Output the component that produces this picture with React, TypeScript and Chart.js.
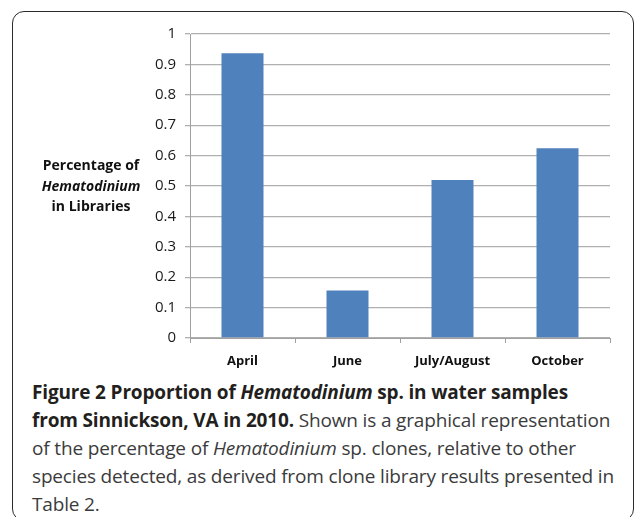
import React, { useEffect, useRef } from "react";
import { Chart, registerables } from "chart.js";

Chart.register(...registerables);

const categories = ["April", "June", "July/August", "October"];
const values = [0.937, 0.156, 0.52, 0.624];
const yMin = 0;
const yMax = 1;
const yStep = 0.1;
const yTitleLines = ["Percentage of", "Hematodinium", "in Libraries"];

const captionTitle = ["Figure 2", "Proportion of", "Hematodinium", "sp. in water samples", "from Sinnickson, VA in 2010."];

const CHART_FONT = "'Open Sans', 'DejaVu Sans', sans-serif";

const yTitlePlugin = {
  id: "yTitleLines",
  afterDraw(chart: any) {
    const ctx = chart.ctx;
    ctx.save();
    ctx.fillStyle = "#111";
    ctx.textAlign = "center";
    ctx.textBaseline = "middle";
    const x = 91;
    const ys = [166, 187, 207];
    yTitleLines.forEach((t, i) => {
      ctx.font = (i === 1 ? "italic " : "") + "bold 14px " + CHART_FONT;
      ctx.fillText(t, x, ys[i]);
    });
    ctx.restore();
  },
};

export default function App() {
  const ref = useRef<HTMLCanvasElement>(null);

  useEffect(() => {
    if (!ref.current) return;
    const chart = new Chart(ref.current, {
      type: "bar",
      data: {
        labels: categories,
        datasets: [
          {
            data: values,
            backgroundColor: "#4f81bd",
            borderWidth: 0,
            barPercentage: 0.4,
            categoryPercentage: 1,
          },
        ],
      },
      options: {
        responsive: false,
        animation: false,
        devicePixelRatio: 1,
        layout: { padding: { top: 34, right: 25, left: 0, bottom: 0 } },
        plugins: {
          legend: { display: false },
          tooltip: { enabled: false },
        },
        scales: {
          x: {
            afterFit: (s: any) => {
              s.height = 40;
            },
            grid: {
              offset: true,
              drawOnChartArea: false,
              drawTicks: true,
              tickLength: 5,
              color: "#a0a0a0",
            },
            border: { color: "#a0a0a0", width: 1 },
            ticks: {
              color: "#111",
              padding: 10,
              font: { family: CHART_FONT, size: 13, weight: "bold" },
            },
          },
          y: {
            min: yMin,
            max: yMax,
            afterFit: (s: any) => {
              s.width = 190;
            },
            grid: {
              color: "#b0b0b0",
              tickLength: 5,
              lineWidth: 1.3,
            },
            border: { color: "#a0a0a0", width: 1 },
            ticks: {
              stepSize: yStep,
              color: "#1a1a1a",
              padding: 9,
              font: { family: CHART_FONT, size: 15 },
              callback: (v: any) => String(Number(Number(v).toFixed(1))),
            },
          },
        },
      },
      plugins: [yTitlePlugin],
    });
    return () => chart.destroy();
  }, []);

  const regular = { fontWeight: 400, color: "#3b3b3b" };
  const bold = { fontWeight: 700, color: "#231f20" };

  return (
    <div style={{ position: "absolute", left: 0, top: 0, width: 635, height: 517, overflow: "hidden", background: "#fff" }}>
      <div
        style={{
          position: "absolute",
          left: 12,
          top: 11,
          width: 620,
          height: 508,
          border: "1.6px solid #2b2b2b",
          borderRadius: 12,
        }}
      />
      <canvas ref={ref} width={635} height={378} style={{ position: "absolute", left: 0, top: 0, width: 635, height: 378 }} />
      <div
        style={{
          position: "absolute",
          left: 32,
          top: 378,
          width: 600,
          fontFamily: CHART_FONT,
          fontSize: 19,
          lineHeight: "28px",
          whiteSpace: "nowrap",
          letterSpacing: "-0.16px",
        }}
      >
        <div style={bold}>
          {captionTitle[0]} {captionTitle[1]} <i>{captionTitle[2]}</i> {captionTitle[3]}
        </div>
        <div>
          <span style={bold}>{captionTitle[4]}</span>{" "}
          <span style={regular}>Shown is a graphical representation</span>
        </div>
        <div style={regular}>
          of the percentage of <i>Hematodinium</i> sp. clones, relative to other
        </div>
        <div style={regular}>species detected, as derived from clone library results presented in</div>
        <div style={regular}>Table 2.</div>
      </div>
    </div>
  );
}
